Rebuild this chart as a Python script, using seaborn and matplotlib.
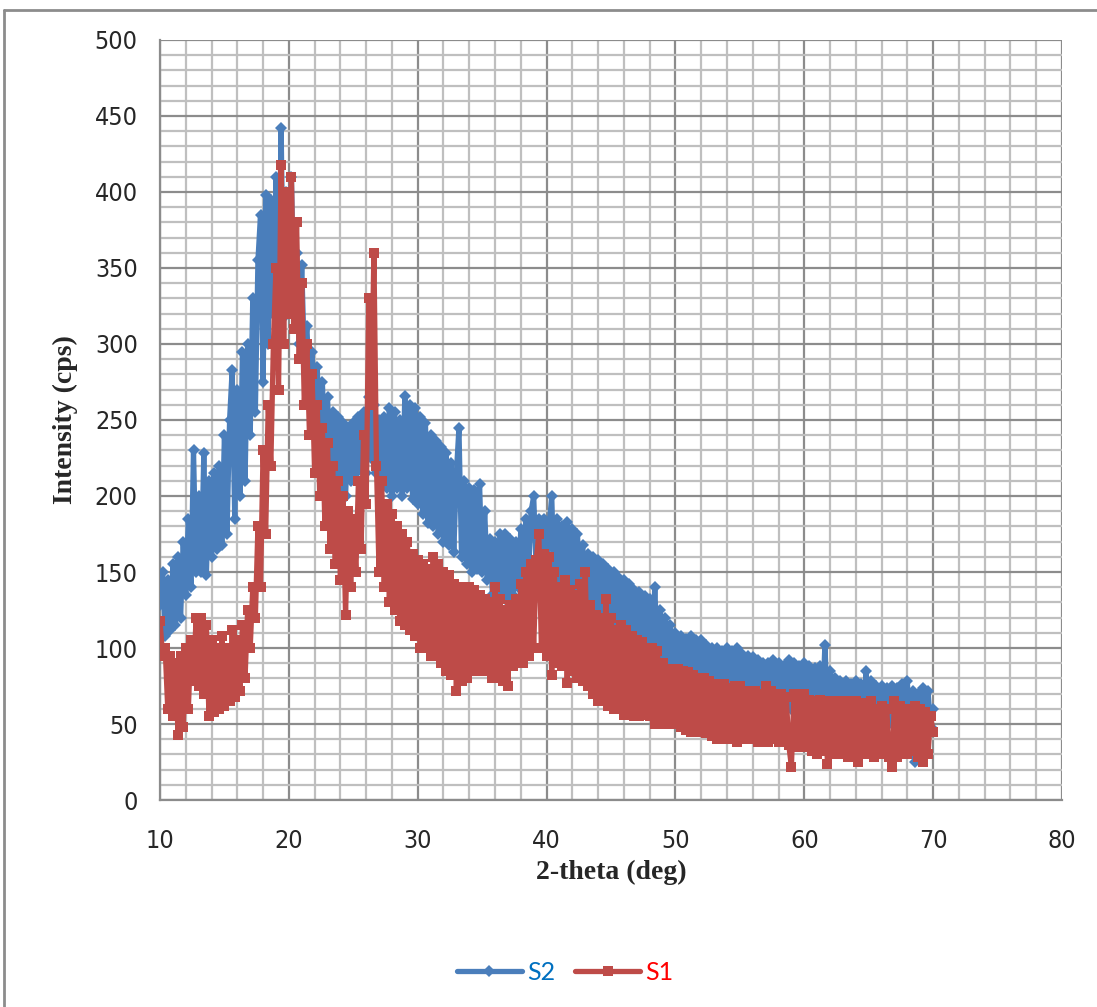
import numpy as np
import pandas as pd
import matplotlib
matplotlib.use("Agg")
import matplotlib.pyplot as plt
from matplotlib.lines import Line2D
from matplotlib.font_manager import FontProperties
import seaborn as sns

# 2-theta scan positions (deg), 0.2 deg step from 10 to 70
two_theta = np.round(np.arange(10.0, 70.0001, 0.2), 1)

# Intensity (cps) for sample S2
s2_counts = [
    128, 150, 108, 145, 112,
    155, 115, 160, 120, 170,
    135, 185, 140, 230, 150,
    200, 150, 228, 148, 210,
    160, 215, 165, 220, 168,
    240, 175, 250, 283, 185,
    270, 200, 295, 210, 300,
    240, 330, 255, 355, 385,
    275, 398, 300, 395, 320,
    410, 330, 442, 318, 400,
    335, 410, 320, 360, 300,
    352, 290, 312, 265, 295,
    250, 285, 238, 275, 228,
    265, 220, 255, 215, 252,
    205, 248, 200, 245, 210,
    248, 215, 252, 218, 255,
    215, 265, 225, 260, 215,
    250, 212, 252, 205, 258,
    200, 255, 205, 250, 200,
    266, 205, 260, 198, 258,
    195, 252, 188, 248, 182,
    240, 180, 236, 175, 232,
    170, 228, 168, 222, 163,
    215, 245, 160, 210, 155,
    205, 150, 204, 152, 208,
    150, 190, 145, 172, 135,
    170, 138, 175, 133, 175,
    130, 172, 135, 170, 140,
    178, 143, 185, 148, 190,
    200, 150, 185, 140, 185,
    145, 180, 200, 140, 185,
    135, 180, 130, 183, 135,
    178, 130, 175, 128, 168,
    125, 162, 120, 160, 120,
    158, 118, 155, 115, 152,
    110, 150, 110, 146, 108,
    145, 105, 142, 104, 138,
    100, 137, 98, 134, 95,
    132, 95, 140, 92, 125,
    90, 120, 88, 115, 85,
    110, 80, 108, 82, 106,
    80, 108, 78, 105, 78,
    105, 76, 102, 75, 100,
    75, 100, 73, 98, 72,
    100, 72, 98, 70, 100,
    70, 96, 70, 95, 68,
    94, 68, 92, 66, 90,
    65, 90, 65, 92, 64,
    90, 64, 88, 62, 92,
    60, 90, 60, 88, 60,
    90, 60, 88, 58, 87,
    60, 88, 58, 102, 58,
    85, 58, 80, 56, 78,
    55, 78, 55, 76, 54,
    78, 55, 76, 54, 85,
    54, 78, 52, 75, 52,
    75, 50, 74, 50, 75,
    50, 74, 48, 76, 45,
    78, 40, 72, 25, 70,
    45, 74, 46, 72, 48,
    60,
]

# Intensity (cps) for sample S1
s1_counts = [
    118, 95, 100, 60, 95,
    55, 90, 43, 95, 48,
    100, 60, 105, 78, 120,
    75, 120, 70, 115, 55,
    105, 58, 100, 60, 108,
    62, 100, 65, 112, 68,
    105, 72, 115, 80, 125,
    100, 140, 120, 180, 140,
    230, 175, 260, 220, 300,
    350, 270, 418, 300, 400,
    320, 410, 310, 380, 290,
    340, 260, 300, 240, 280,
    215, 260, 200, 245, 180,
    235, 165, 220, 155, 210,
    145, 200, 122, 190, 140,
    185, 150, 210, 165, 240,
    195, 330, 260, 360, 220,
    150, 210, 140, 195, 130,
    188, 125, 180, 118, 175,
    115, 170, 112, 162, 108,
    158, 100, 155, 100, 152,
    95, 160, 95, 155, 90,
    150, 85, 148, 82, 142,
    72, 140, 78, 135, 80,
    140, 85, 138, 90, 135,
    85, 132, 86, 130, 80,
    140, 80, 132, 78, 125,
    75, 128, 88, 132, 92,
    142, 90, 150, 95, 155,
    100, 158, 175, 100, 162,
    95, 160, 82, 150, 90,
    140, 88, 145, 77, 138,
    85, 135, 80, 142, 78,
    150, 75, 128, 70, 122,
    65, 120, 65, 132, 62,
    120, 60, 112, 60, 115,
    56, 112, 60, 108, 55,
    105, 55, 104, 56, 100,
    55, 100, 50, 98, 52,
    90, 50, 86, 50, 85,
    50, 86, 48, 85, 46,
    84, 45, 82, 45, 80,
    45, 80, 44, 78, 42,
    76, 40, 75, 40, 76,
    40, 74, 40, 75, 38,
    75, 40, 72, 40, 70,
    40, 72, 38, 70, 40,
    75, 38, 72, 40, 70,
    38, 70, 38, 68, 36,
    22, 70, 35, 68, 35,
    70, 35, 66, 32, 65,
    30, 66, 32, 65, 24,
    65, 30, 64, 30, 65,
    30, 65, 28, 64, 28,
    65, 25, 64, 30, 62,
    30, 65, 28, 60, 30,
    62, 30, 60, 28, 22,
    65, 28, 62, 30, 60,
    30, 60, 32, 62, 28,
    60, 25, 58, 30, 55,
    45,
]

series_names = ["S2", "S1"]
x_ticks = [10, 20, 30, 40, 50, 60, 70, 80]
y_ticks = [0, 50, 100, 150, 200, 250, 300, 350, 400, 450, 500]

BLUE = "#4A7EBB"
RED = "#BE4B48"
GRID_MINOR = "#BFBFBF"
GRID_MAJOR = "#8C8C8C"
LW = 3.8
MS = 7

sns.set_style("white")
plt.rcParams["font.family"] = ["DejaVu Sans", "Liberation Sans"]
plt.rcParams["font.stretch"] = "condensed"

fig = plt.figure(figsize=(10.97, 10.07), dpi=100)
ax = fig.add_axes([160 / 1097, 1 - 800 / 1007, (1062 - 160) / 1097, (800 - 40) / 1007])

df = pd.DataFrame({"x": two_theta, "S2": s2_counts, "S1": s1_counts})

sns.lineplot(data=df, x="x", y="S2", ax=ax, color=BLUE, lw=LW,
             marker="D", markersize=MS - 0.5, markeredgewidth=0, estimator=None,
             sort=False, zorder=3)
sns.lineplot(data=df, x="x", y="S1", ax=ax, color=RED, lw=LW,
             marker="s", markersize=MS, markeredgewidth=0, estimator=None,
             sort=False, zorder=4)

ax.set_xlim(10, 80)
ax.set_ylim(0, 500)

# Excel-style grid: minor every 2 deg / 10 cps, major every 10 deg / 50 cps
ax.set_xticks(x_ticks)
ax.set_yticks(y_ticks)
ax.set_xticks(np.arange(10, 81, 2), minor=True)
ax.set_yticks(np.arange(0, 501, 10), minor=True)
ax.grid(which="minor", color=GRID_MINOR, lw=1.6, zorder=0)
ax.grid(which="major", color=GRID_MAJOR, lw=1.6, zorder=0)
ax.set_axisbelow(True)

for side in ["top", "right"]:
    ax.spines[side].set_visible(False)
for side in ["left", "bottom"]:
    ax.spines[side].set_color(GRID_MAJOR)
    ax.spines[side].set_linewidth(1.6)

ax.tick_params(axis="both", which="minor", length=0)
ax.tick_params(axis="x", which="major", direction="out", length=7, width=1.6,
               color=GRID_MAJOR, pad=14, labelsize=18)
ax.tick_params(axis="y", which="major", direction="out", length=7, width=1.6,
               color=GRID_MAJOR, pad=9, labelsize=18)

ax.set_xlabel("2-theta (deg)", family=["Liberation Serif"], fontweight="bold",
              fontstretch="normal", fontsize=20, labelpad=5)
ax.set_ylabel("Intensity (cps)", family=["Liberation Serif"], fontweight="bold",
              fontstretch="normal", fontsize=20, labelpad=12)

handles = [
    Line2D([], [], color=BLUE, lw=LW, marker="D", markersize=MS - 0.5, markeredgewidth=0),
    Line2D([], [], color=RED, lw=LW, marker="s", markersize=MS, markeredgewidth=0),
]
leg = fig.legend(handles, series_names, loc="center", bbox_to_anchor=(565 / 1097, 1 - 972 / 1007),
                 ncol=2, frameon=False, handlelength=2.6, columnspacing=0.8,
                 handletextpad=0.2,
                 prop=FontProperties(family="Lato", size=18))
leg.get_texts()[0].set_color("#0070C0")
leg.get_texts()[1].set_color("#FF0000")

# Chart frame (left and top edges)
fig.add_artist(Line2D([4 / 1097, 4 / 1097], [0, 1 - 10 / 1007], color=GRID_MAJOR, lw=2,
                      transform=fig.transFigure))
fig.add_artist(Line2D([4 / 1097, 1], [1 - 10 / 1007, 1 - 10 / 1007], color=GRID_MAJOR, lw=2,
                      transform=fig.transFigure))

fig.savefig("out.png", dpi=100, facecolor="white")
